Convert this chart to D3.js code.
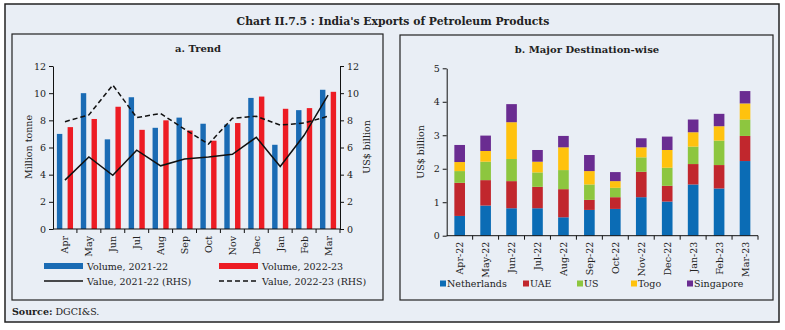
<!DOCTYPE html>
<html><head><meta charset="utf-8">
<script src="https://cdn.jsdelivr.net/npm/d3@7"></script>
<style>
body{margin:0;background:#fff;}
svg{display:block;font-family:"DejaVu Serif",serif;}
</style></head>
<body><svg id="c" width="785" height="330"></svg>
<script>
// ---------- data ----------
const months = ["Apr","May","Jun","Jul","Aug","Sep","Oct","Nov","Dec","Jan","Feb","Mar"];
const volume2122 = [7.0,10.0,6.6,9.7,7.45,8.2,7.75,7.7,9.65,6.2,8.75,10.25];
const volume2223 = [7.5,8.1,9.0,7.3,8.0,7.25,6.5,7.8,9.75,8.85,8.9,10.1];
const value2122 = [3.6,5.3,3.95,5.8,4.65,5.15,5.3,5.5,6.75,4.6,6.9,9.85];
const value2223 = [7.9,8.4,10.6,8.2,8.5,7.35,6.25,8.15,8.3,7.65,7.8,8.3];
const leftTicks = [0,2,4,6,8,10,12];

const destMonths = ["Apr-22","May-22","Jun-22","Jul-22","Aug-22","Sep-22","Oct-22","Nov-22","Dec-22","Jan-23","Feb-23","Mar-23"];
const countries = ["Netherlands","UAE","US","Togo","Singapore"];
const netherlands = [0.59,0.90,0.82,0.82,0.55,0.77,0.80,1.15,1.02,1.53,1.41,2.23];
const uae        = [0.99,0.76,0.81,0.64,0.84,0.30,0.35,0.76,0.47,0.61,0.70,0.75];
const us         = [0.35,0.55,0.66,0.43,0.57,0.46,0.28,0.43,0.54,0.52,0.73,0.49];
const togo       = [0.27,0.32,1.10,0.32,0.68,0.40,0.20,0.30,0.53,0.43,0.43,0.48];
const singapore  = [0.51,0.46,0.54,0.35,0.34,0.48,0.27,0.27,0.40,0.38,0.37,0.37];
const rightTicks = [0,1,2,3,4,5];

// ---------- styles ----------
const bg = "#e9eef5";
const cBlue = "#1a6bb4", cRed = "#ed1c24";
const cColors = ["#0b6cb5","#c1272d","#8dc63f","#ffc20e","#6a2c91"];
const fs = 9.5;

const svg = d3.select("#c");
svg.append("rect").attr("x",5).attr("y",4).attr("width",774).attr("height",318)
  .attr("fill",bg).attr("stroke","#222").attr("stroke-width",1.5);
svg.append("text").attr("x",393).attr("y",25).attr("text-anchor","middle")
  .attr("font-weight","bold").attr("font-size",10.8).attr("fill","#222")
  .text("Chart II.7.5 : India's Exports of Petroleum Products");
svg.append("rect").attr("x",12).attr("y",34).attr("width",371).attr("height",266)
  .attr("fill","none").attr("stroke","#222").attr("stroke-width",1.2);
svg.append("rect").attr("x",400).attr("y",35).attr("width",373).attr("height",265)
  .attr("fill","none").attr("stroke","#222").attr("stroke-width",1.2);
svg.append("text").attr("x",12).attr("y",315).attr("font-size",fs).attr("fill","#222")
  .html('<tspan font-weight="bold">Source:</tspan> DGCI&amp;S.');

// ---------- left chart ----------
const L = svg.append("g");
L.append("text").attr("x",198).attr("y",52).attr("text-anchor","middle")
  .attr("font-weight","bold").attr("font-size",10).attr("fill","#222").text("a. Trend");
const x = d3.scaleBand().domain(months).range([53,340]).paddingInner(0).paddingOuter(0);
const x1 = d3.scaleBand().domain(["a","b"]).range([0,x.bandwidth()]).paddingInner(0.495).paddingOuter(0.364);
const y = d3.scaleLinear().domain([0,12]).range([229,66]);

L.selectAll("rect.b1").data(months).join("rect")
  .attr("x",(d)=>x(d)+x1("a")).attr("width",x1.bandwidth())
  .attr("y",(d,i)=>y(volume2122[i])).attr("height",(d,i)=>y(0)-y(volume2122[i])).attr("fill",cBlue);
L.selectAll("rect.b2").data(months).join("rect")
  .attr("x",(d)=>x(d)+x1("b")).attr("width",x1.bandwidth())
  .attr("y",(d,i)=>y(volume2223[i])).attr("height",(d,i)=>y(0)-y(volume2223[i])).attr("fill",cRed);

const line = d3.line().x((d,i)=>x(months[i])+x.bandwidth()/2).y(d=>y(d));
L.append("path").attr("d",line(value2122)).attr("fill","none").attr("stroke","#111").attr("stroke-width",1.5);
L.append("path").attr("d",line(value2223)).attr("fill","none").attr("stroke","#111").attr("stroke-width",1.5).attr("stroke-dasharray","5,3");

function styleAxis(g){
  g.selectAll("path,line").attr("stroke","#111");
  g.selectAll("text").attr("fill","#222").attr("font-family","DejaVu Serif, serif").attr("font-size",fs);
}
const ax = L.append("g").attr("transform","translate(53,0)")
  .call(d3.axisLeft(y).tickValues(leftTicks).tickSize(4).tickSizeOuter(0));
styleAxis(ax);
const ax2 = L.append("g").attr("transform","translate(340,0)")
  .call(d3.axisRight(y).tickValues(leftTicks).tickSize(4).tickSizeOuter(0));
styleAxis(ax2);
const axx = L.append("g").attr("transform","translate(0,229)");
axx.append("line").attr("x1",53).attr("x2",340).attr("stroke","#111");
axx.selectAll("line.t").data(months).join("line").attr("class","t")
  .attr("x1",d=>x(d)+x.bandwidth()).attr("x2",d=>x(d)+x.bandwidth()).attr("y1",0).attr("y2",4).attr("stroke","#111");
axx.selectAll("text").data(months).join("text")
  .attr("transform",d=>`translate(${x(d)+x.bandwidth()/2+3.5},7) rotate(-90)`)
  .attr("text-anchor","end").attr("font-size",fs).attr("fill","#222").text(d=>d);

L.append("text").attr("transform","translate(32,147) rotate(-90)").attr("text-anchor","middle")
  .attr("font-size",fs).attr("fill","#222").text("Million tonne");
L.append("text").attr("transform","translate(370,147) rotate(-90)").attr("text-anchor","middle")
  .attr("font-size",fs).attr("fill","#222").text("US$ billion");

// legend left
const lg = L.append("g");
lg.append("rect").attr("x",44).attr("y",263).attr("width",39).attr("height",6).attr("fill",cBlue);
lg.append("text").attr("x",87).attr("y",269.5).attr("font-size",fs).attr("fill","#222").text("Volume, 2021-22");
lg.append("rect").attr("x",219).attr("y",263).attr("width",39).attr("height",6).attr("fill",cRed);
lg.append("text").attr("x",262).attr("y",269.5).attr("font-size",fs).attr("fill","#222").text("Volume, 2022-23");
lg.append("line").attr("x1",44).attr("x2",83).attr("y1",281).attr("y2",281).attr("stroke","#111").attr("stroke-width",1.5);
lg.append("text").attr("x",87).attr("y",284.5).attr("font-size",fs).attr("fill","#222").text("Value, 2021-22 (RHS)");
lg.append("line").attr("x1",219).attr("x2",258).attr("y1",281).attr("y2",281).attr("stroke","#111").attr("stroke-width",1.5).attr("stroke-dasharray","5,3");
lg.append("text").attr("x",262).attr("y",284.5).attr("font-size",fs).attr("fill","#222").text("Value, 2022-23 (RHS)");

// ---------- right chart ----------
const R = svg.append("g");
R.append("text").attr("x",587).attr("y",53).attr("text-anchor","middle")
  .attr("font-weight","bold").attr("font-size",10).attr("fill","#222").text("b. Major Destination-wise");
const xr = d3.scaleBand().domain(destMonths).range([446.7,758]).paddingInner(0.59).paddingOuter(0.295);
const xb = d3.scaleBand().domain(destMonths).range([446.7,758]);
const yr = d3.scaleLinear().domain([0,5]).range([235.7,68.3]);
const series = [netherlands,uae,us,togo,singapore];
const table = destMonths.map((m,i)=>{const o={m}; countries.forEach((c,k)=>o[c]=series[k][i]); return o;});
const stack = d3.stack().keys(countries)(table);
R.selectAll("g.s").data(stack).join("g").attr("fill",(d,k)=>cColors[k])
  .selectAll("rect").data(d=>d).join("rect")
  .attr("x",d=>xr(d.data.m)).attr("width",xr.bandwidth())
  .attr("y",d=>yr(d[1])).attr("height",d=>yr(d[0])-yr(d[1]));

const ay = R.append("g").attr("transform","translate(446.7,0)")
  .call(d3.axisLeft(yr).tickValues(rightTicks).tickFormat(d3.format("d")).tickSize(4).tickSizeOuter(0));
styleAxis(ay);
const axr = R.append("g").attr("transform","translate(0,235.7)");
axr.append("line").attr("x1",446.7).attr("x2",758).attr("stroke","#111");
axr.selectAll("line.t").data(destMonths).join("line").attr("class","t")
  .attr("x1",d=>xb(d)+xb.bandwidth()).attr("x2",d=>xb(d)+xb.bandwidth()).attr("y1",0).attr("y2",4).attr("stroke","#111");
axr.selectAll("text").data(destMonths).join("text")
  .attr("transform",d=>`translate(${xb(d)+xb.bandwidth()/2+3.5},6) rotate(-90)`)
  .attr("text-anchor","end").attr("font-size",fs).attr("fill","#222").text(d=>d);
R.append("text").attr("transform","translate(424,152) rotate(-90)").attr("text-anchor","middle")
  .attr("font-size",fs).attr("fill","#222").text("US$ billion");

const legX = [440,523,577,631,687];
const rl = R.append("g");
countries.forEach((c,k)=>{
  rl.append("rect").attr("x",legX[k]).attr("y",280.5).attr("width",6).attr("height",6).attr("fill",cColors[k]);
  rl.append("text").attr("x",legX[k]+7).attr("y",287).attr("font-size",fs).attr("fill","#222").text(c);
});
</script></body></html>
